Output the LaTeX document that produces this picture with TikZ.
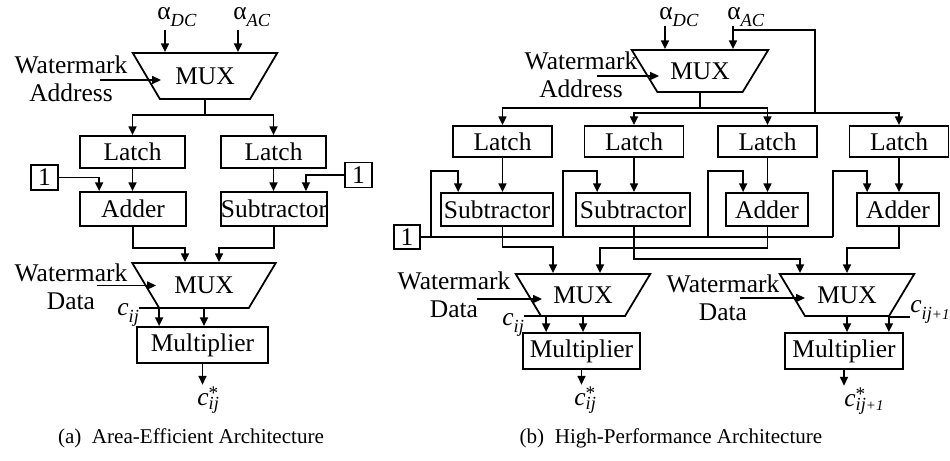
\documentclass[tikz,border=0pt]{standalone}
\usepackage{fontspec}
\setmainfont{Liberation Serif}
\usetikzlibrary{shapes.geometric,arrows.meta,calc}

\newcommand{\subtxt}[2][4pt]{\raisebox{-#1}{\fontsize{10.5}{10}\selectfont\itshape #2}}
\newcommand{\coeff}[1]{\textit{c}\subtxt{#1}}
\newcommand{\coeffout}[1]{\textit{c}\rlap{\raisebox{3pt}{\fontsize{11}{10}\selectfont *}}\subtxt[2.5pt]{#1}}
\newcommand{\alphalbl}[1]{α\subtxt{#1}}
\newcommand{\nextidx}{ij{\fontsize{8.5}{8}\selectfont+1}}

\tikzset{
  fio/.style={line width=1pt},
  seta/.style={fio,-{Triangle[length=5pt,width=4.5pt]}},
  bloco/.style={draw,line width=1pt,inner sep=0pt,font=\fontsize{14.5}{16}\selectfont},
  mux/.style={draw,line width=1pt,trapezium,trapezium stretches=true,shape border rotate=180,
    trapezium left angle=43.5,trapezium right angle=43.5,inner sep=0pt,
    font=\fontsize{14.5}{16}\selectfont},
  rotulo/.style={inner sep=0pt,align=center,font=\fontsize{14.5}{16}\selectfont},
  legenda/.style={inner sep=0pt,font=\fontsize{12}{14}\selectfont},
}

\begin{document}
    \begin{tikzpicture}[x=0.02cm,y=-0.02cm]
      \useasboundingbox (0,0) rectangle (950,460);
      % (a) area eficiente
      \node[mux,minimum width=2.9cm,minimum height=0.92cm] (muxA1) at (205,76) {MUX};
      \node[rotulo,anchor=base west] (aDCa) at (157,19) {\alphalbl{DC}};
      \node[rotulo,anchor=base west] (aACa) at (233,19) {\alphalbl{AC}};
      \coordinate (dcA) at (165,30);
      \coordinate (acA) at (238,30);
      \draw[seta] (dcA) -- (dcA |- muxA1.north);              % entrada DC
      \draw[seta] (acA) -- (acA |- muxA1.north);              % entrada AC
      \node[rotulo] (endA) at (71,79) {Watermark\\Address};
      \draw[seta] ($(muxA1.center)+(-105,4)$) -- ($(muxA1.center)+(-44,4)$); % endereco
      \node[bloco,minimum width=2.1cm,minimum height=0.64cm] (travaA1) at (132.5,152) {Latch};
      \node[bloco,minimum width=2.1cm,minimum height=0.64cm] (travaA2) at (273.5,152) {Latch};
      \draw[fio] (muxA1.south) -- ++(0,15) coordinate (saiA);
      \draw[seta] (saiA) -| (travaA1.north);
      \draw[seta] (saiA) -| (travaA2.north);
      \node[bloco,minimum width=2.12cm,minimum height=0.68cm] (somA) at (133,209) {Adder};
      \node[bloco,minimum width=2.12cm,minimum height=0.68cm] (subA) at (274,209) {Subtractor};
      \node[bloco,minimum width=0.54cm,minimum height=0.5cm] (umA1) at (44.5,177.5) {1};
      \node[bloco,minimum width=0.54cm,minimum height=0.5cm] (umA2) at (358.5,175) {1};
      \draw[seta] (travaA1.south) -- (travaA1.south |- somA.north);
      \draw[seta] (travaA2.south) -- (travaA2.south |- subA.north);
      \draw[seta] (umA1.east) -| ($(somA.north west)+(20,0)$);  % constante 1
      \draw[seta] (umA2.west) -| ($(subA.north east)+(-22,0)$);
      \node[mux,minimum width=2.88cm,minimum height=0.9cm] (muxA2) at (204,285.5) {MUX};
      \draw[seta] (somA.south) -- ++(0,21) -| ($(muxA2.north)+(-19,0)$);
      \draw[seta] (subA.south) -- ++(0,21) -| ($(muxA2.north)+(15,0)$);
      \node[rotulo] (dadoA) at (71,287) {Watermark\\Data};
      \draw[seta] ($(muxA2.center)+(-107,0)$) -- ($(muxA2.center)+(-48,0)$); % dado
      \node[bloco,minimum width=2.62cm,minimum height=0.72cm] (multA) at (202.5,345) {Multiplier};
      \draw[seta] (muxA2.south) -- (muxA2.south |- multA.north);
      \node[rotulo,anchor=base west] (cA) at (117,315) {\coeff{ij}};
      \draw[seta] ([yshift=4pt]cA.base east) -| ($(multA.north west)+(23,0)$);
      \node[rotulo,anchor=base west] (cAout) at (197,405) {\coeffout{ij}};
      \draw[seta] (multA.south) -- ($(multA.south |- cAout.north)+(0,-2)$);
      \node[legenda] (legA) at (191,438) {(a)\enspace Area-Efficient Architecture};
      % (b) alto desempenho
      \node[mux,minimum width=2.74cm,minimum height=0.84cm] (muxB) at (700,71) {MUX};
      \node[rotulo,anchor=base west] (aDCb) at (659,19) {\alphalbl{DC}};
      \node[rotulo,anchor=base west] (aACb) at (727,19) {\alphalbl{AC}};
      \coordinate (dcB) at (665,26);
      \coordinate (acB) at (733,26);
      \coordinate (acDesvio) at (733,30);
      \coordinate (acBarra) at (815,113);
      \draw[seta] (dcB) -- (dcB |- muxB.north);
      \draw[seta] (acB) -- (acB |- muxB.north);
      \draw[fio] (acDesvio) -| (acBarra);                     % desvio do AC
      \node[rotulo] (endB) at (581,75) {Watermark\\Address};
      \draw[seta] ($(muxB.center)+(-103,5)$) -- ($(muxB.center)+(-41,5)$);
      \foreach \i/\xc in {1/502.5,2/634,3/767.5,4/899}
        \node[bloco,minimum width=1.98cm,minimum height=0.62cm] (travaB\i) at (\xc,141.5) {Latch};
      \node[bloco,minimum width=2.24cm,minimum height=0.66cm] (opB1) at (497,209.5) {Subtractor};
      \node[bloco,minimum width=2.28cm,minimum height=0.66cm] (opB2) at (633,209.5) {Subtractor};
      \node[bloco,minimum width=1.64cm,minimum height=0.66cm] (opB3) at (767,209.5) {Adder};
      \node[bloco,minimum width=1.64cm,minimum height=0.66cm] (opB4) at (898,209.5) {Adder};
      \draw[fio] (muxB.south) -- ++(0,15) coordinate (saiB);
      \draw[seta] (saiB) -| (travaB1.north);
      \draw[seta] (saiB) -| (travaB3.north);
      \draw[seta] (acBarra) -| (travaB2.north);
      \draw[seta] (acBarra) -| (travaB4.north);
      \foreach \i in {1,...,4}
        \draw[seta] (travaB\i.south) -- (travaB\i.south |- opB\i.north);
      \node[bloco,minimum width=0.52cm,minimum height=0.48cm] (umB) at (407,237) {1};
      \draw[fio] (umB.east) -- (umB.east -| 833,0);           % linha do 1
      \foreach \i/\tp/\dx in {1/431/18,2/563/22,3/708/18,4/833/11}
        \draw[seta] (umB.east -| \tp,0) |- ($(opB\i.north west)+(\dx,-21)$) -- ($(opB\i.north west)+(\dx,0)$);
      \node[mux,minimum width=2.7cm,minimum height=0.84cm] (muxL) at (583,295) {MUX};
      \node[mux,minimum width=2.7cm,minimum height=0.84cm] (muxR) at (847,295) {MUX};
      \draw[seta] (travaB1.center |- opB1.south) -- ++(0,20) -| ($(muxL.north)+(-30,0)$);
      \draw[seta] (travaB3.center |- opB3.south) -- ++(0,21) -| ($(muxL.north)+(17,0)$);
      \draw[seta] (travaB2.center |- opB2.south) -- ++(0,32) -| ($(muxR.north)+(-47,0)$);
      \draw[seta] (travaB4.center |- opB4.south) -- ++(0,21) -| (muxR.north);
      \node[rotulo] (dadoBL) at (454,295) {Watermark\\Data};
      \draw[seta] ($(muxL.center)+(-106,4)$) -- ($(muxL.center)+(-41,4)$);
      \node[rotulo] (dadoBR) at (723,298) {Watermark\\Data};
      \draw[seta] ($(muxR.center)+(-107,3)$) -- ($(muxR.center)+(-42,3)$);
      \node[bloco,minimum width=2.34cm,minimum height=0.72cm] (multL) at (581.5,351) {Multiplier};
      \node[bloco,minimum width=2.36cm,minimum height=0.72cm] (multR) at (844,351) {Multiplier};
      \draw[seta] (muxL.south) -- (muxL.south |- multL.north);
      \draw[seta] (muxR.south) -- (muxR.south |- multR.north);
      \node[rotulo,anchor=base west] (cL) at (502,325) {\coeff{ij}};
      \draw[seta] ([yshift=5pt]cL.base east) -| ($(multL.north west)+(24,0)$);
      \node[rotulo,anchor=base west] (cR) at (910,312) {\coeff{\nextidx}};
      \draw[seta] ([yshift=-3pt]cR.base west) -| ($(multR.north east)+(-15,0)$);
      \node[rotulo,anchor=base west] (cLout) at (574,405) {\coeffout{ij}};
      \node[rotulo,anchor=base west] (cRout) at (844,406) {\coeffout{\nextidx}};
      \draw[seta] (multL.south) -- ($(multL.south |- cLout.north)+(0,-2)$);
      \draw[seta] (multR.south) -- ($(multR.south |- cRout.north)+(0,-2)$);
      \node[legenda] (legB) at (671,438) {(b)\enspace High-Performance Architecture};
    \end{tikzpicture}
\end{document}
